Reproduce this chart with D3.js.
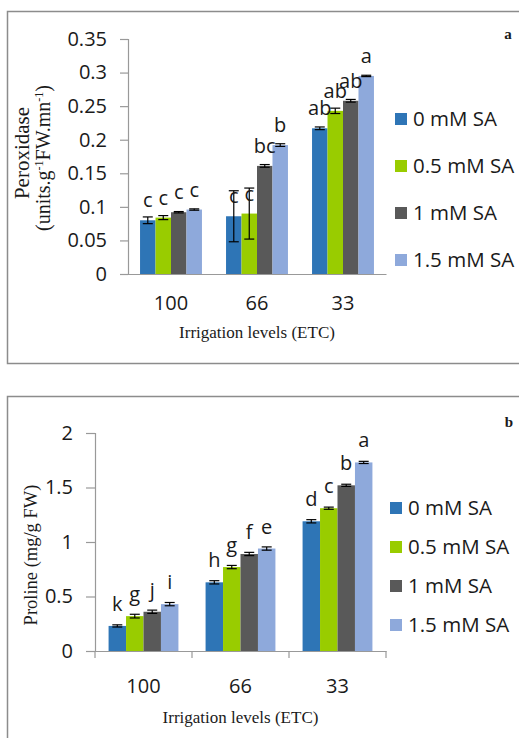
<!DOCTYPE html>
<html><head><meta charset="utf-8">
<script src="https://cdn.jsdelivr.net/npm/d3@7"></script>
<style>
body{margin:0;background:#fff;}
svg{display:block;}
</style>
</head><body>
<svg id="chart" width="519" height="738"></svg>
<script>
// ---------- data ----------
const categories = ["100", "66", "33"];
const seriesNames = ["0 mM SA", "0.5 mM SA", "1 mM SA", "1.5 mM SA"];
const seriesColors = ["#2E75B6", "#99CC00", "#595959", "#8EA9DB"];

// Panel a: Peroxidase (rows = series, columns = categories)
const perox0  = [0.080, 0.086, 0.217];
const perox05 = [0.084, 0.090, 0.243];
const perox1  = [0.092, 0.161, 0.258];
const perox15 = [0.096, 0.192, 0.295];
const peroxErr0  = [0.005, 0.038, 0.002];
const peroxErr05 = [0.003, 0.038, 0.004];
const peroxErr1  = [0.001, 0.002, 0.002];
const peroxErr15 = [0.001, 0.002, 0.001];
const peroxLetters0  = ["c", "c", "ab"];
const peroxLetters05 = ["c", "c", "ab"];
const peroxLetters1  = ["c", "bc", "ab"];
const peroxLetters15 = ["c", "b", "a"];
const peroxTicks = [0, 0.05, 0.1, 0.15, 0.2, 0.25, 0.3, 0.35];

// Panel b: Proline
const prol0  = [0.23, 0.63, 1.19];
const prol05 = [0.32, 0.77, 1.31];
const prol1  = [0.36, 0.89, 1.52];
const prol15 = [0.43, 0.94, 1.73];
const prolErr0  = [0.01, 0.015, 0.015];
const prolErr05 = [0.017, 0.015, 0.01];
const prolErr1  = [0.015, 0.015, 0.01];
const prolErr15 = [0.015, 0.015, 0.01];
const prolLetters0  = ["k", "h", "d"];
const prolLetters05 = ["g", "g", "c"];
const prolLetters1  = ["j", "f", "b"];
const prolLetters15 = ["i", "e", "a"];
const prolTicks = [0, 0.5, 1, 1.5, 2];

const xTitle = "Irrigation levels (ETC)";

// ---------- drawing ----------
const svg = d3.select("#chart");
const SANS = "'Open Sans', sans-serif";
const SERIF = "'Liberation Serif', 'Times New Roman', serif";

function drawPanel(cfg) {
  const g = svg.append("g");
  // outer frame
  g.append("rect").attr("x", cfg.box[0]).attr("y", cfg.box[1])
    .attr("width", cfg.box[2]).attr("height", cfg.box[3])
    .attr("fill", "none").attr("stroke", "#8c8c8c").attr("stroke-width", 1.5);

  const x = d3.scaleBand().domain(categories).range([cfg.x0, cfg.x1])
    .paddingInner(0.28).paddingOuter(0.14);
  const xs = d3.scaleBand().domain(seriesNames).range([0, x.bandwidth()]);
  const y = d3.scaleLinear().domain(cfg.yDomain).range([cfg.y0, cfg.yTop]);

  // y axis
  const ya = g.append("g").attr("transform", `translate(${cfg.x0},0)`)
    .call(d3.axisLeft(y).tickValues(cfg.ticks).tickSize(cfg.yTickSize)
      .tickPadding(cfg.yTickPad).tickFormat(d => String(d)));
  ya.select(".domain").attr("stroke", "#999").attr("stroke-width", 1.2);
  ya.selectAll(".tick line").attr("stroke", "#999").attr("stroke-width", 1.2);
  ya.selectAll("text").attr("font-family", SANS).attr("font-size", cfg.fs).attr("fill", "#1a1a1a");

  // bars
  const rows = cfg.values.map((vals, si) => vals.map((v, ci) => ({
    s: seriesNames[si], si, c: categories[ci], v, e: cfg.errs[si][ci], l: cfg.letters[si][ci]
  }))).flat();

  g.selectAll("rect.bar").data(rows).join("rect").attr("class", "bar")
    .attr("x", d => x(d.c) + xs(d.s)).attr("width", xs.bandwidth())
    .attr("y", d => y(d.v)).attr("height", d => y(0) - y(d.v))
    .attr("fill", d => seriesColors[d.si]);

  // error bars
  const eb = g.selectAll("g.err").data(rows).join("g").attr("class", "err")
    .attr("stroke", "#000").attr("stroke-width", 1.2);
  const cx = d => x(d.c) + xs(d.s) + xs.bandwidth() / 2;
  eb.append("line").attr("x1", cx).attr("x2", cx)
    .attr("y1", d => y(d.v + d.e)).attr("y2", d => y(d.v - d.e));
  eb.append("line").attr("x1", d => cx(d) - 5).attr("x2", d => cx(d) + 5)
    .attr("y1", d => y(d.v + d.e)).attr("y2", d => y(d.v + d.e));
  eb.append("line").attr("x1", d => cx(d) - 5).attr("x2", d => cx(d) + 5)
    .attr("y1", d => y(d.v - d.e)).attr("y2", d => y(d.v - d.e));

  // letters
  g.selectAll("text.lab").data(rows).join("text").attr("class", "lab")
    .attr("x", cx).attr("y", d => y(d.v) - cfg.labOff)
    .attr("text-anchor", "middle").attr("font-family", SANS)
    .attr("font-size", cfg.fs).attr("fill", "#1a1a1a").text(d => d.l);

  // x axis
  const xa = g.append("g").attr("transform", `translate(0,${cfg.y0})`)
    .call(d3.axisBottom(x).tickSize(0).tickPadding(cfg.xTickPad).tickSizeOuter(0));
  xa.select(".domain").attr("stroke", "#999").attr("stroke-width", 1.2);
  xa.selectAll("text").attr("font-family", SANS).attr("font-size", cfg.fs).attr("fill", "#1a1a1a");
  if (cfg.boundaryTicks) {
    const bounds = d3.range(categories.length + 1).map(i => cfg.x0 + i * x.step());
    g.selectAll("line.bt").data(bounds).join("line").attr("class", "bt")
      .attr("x1", d => d).attr("x2", d => d)
      .attr("y1", cfg.y0).attr("y2", cfg.y0 + 7)
      .attr("stroke", "#999").attr("stroke-width", 1.2);
  }

  // x title
  g.append("text").attr("x", (cfg.x0 + cfg.x1) / 2).attr("y", cfg.xTitleY)
    .attr("text-anchor", "middle").attr("font-family", SERIF)
    .attr("font-size", 17).attr("fill", "#1a1a1a").text(xTitle);

  // y title
  cfg.yTitle(g);

  // legend
  const lg = g.selectAll("g.leg").data(seriesNames).join("g").attr("class", "leg")
    .attr("transform", (d, i) => `translate(${cfg.legX},${cfg.legY + i * cfg.legStep})`);
  lg.append("rect").attr("x", 0).attr("y", -6).attr("width", 12).attr("height", 12)
    .attr("fill", (d, i) => seriesColors[i]);
  lg.append("text").attr("x", cfg.legTextDx).attr("y", 0).attr("dy", "0.35em")
    .attr("font-family", SANS).attr("font-size", cfg.legFs).attr("fill", "#1a1a1a").text(d => d);

  // panel letter
  g.append("text").attr("x", cfg.tag[0]).attr("y", cfg.tag[1])
    .attr("text-anchor", "middle").attr("font-family", SERIF).attr("font-weight", "bold")
    .attr("font-size", 15).attr("fill", "#1a1a1a").text(cfg.tagText);
}

drawPanel({
  box: [7.5, 11.5, 530, 352],
  x0: 128, x1: 386, y0: 274, yTop: 39, yDomain: [0, 0.35],
  ticks: peroxTicks, yTickSize: 8, yTickPad: 13, fs: 20,
  values: [perox0, perox05, perox1, perox15],
  errs: [peroxErr0, peroxErr05, peroxErr1, peroxErr15],
  letters: [peroxLetters0, peroxLetters05, peroxLetters1, peroxLetters15],
  labOff: 13, xTickPad: 22, boundaryTicks: false, xTitleY: 338,
  legX: 395, legY: 119, legStep: 47, legTextDx: 18, legFs: 20.5,
  tag: [508, 39], tagText: "a",
  yTitle: g => {
    g.append("text").attr("transform", "translate(29,153) rotate(-90)")
      .attr("text-anchor", "middle").attr("font-family", SERIF).attr("font-size", 21).attr("fill", "#1a1a1a")
      .text("Peroxidase");
    const t2 = g.append("text").attr("transform", "translate(50,158) rotate(-90)")
      .attr("text-anchor", "middle").attr("font-family", SERIF).attr("font-size", 20).attr("fill", "#1a1a1a");
    t2.append("tspan").text("(units.g");
    t2.append("tspan").attr("font-size", 12).attr("baseline-shift", "super").text("-1");
    t2.append("tspan").text("FW.mn");
    t2.append("tspan").attr("font-size", 12).attr("baseline-shift", "super").text("-1");
    t2.append("tspan").text(")");
  }
});

drawPanel({
  box: [7.5, 396.5, 530, 360],
  x0: 95, x1: 386, y0: 651, yTop: 433, yDomain: [0, 2],
  ticks: prolTicks, yTickSize: 9, yTickPad: 13, fs: 20,
  values: [prol0, prol05, prol1, prol15],
  errs: [prolErr0, prolErr05, prolErr1, prolErr15],
  letters: [prolLetters0, prolLetters05, prolLetters1, prolLetters15],
  labOff: 15, xTickPad: 28, boundaryTicks: true, xTitleY: 723,
  legX: 390, legY: 508, legStep: 39, legTextDx: 18, legFs: 20.5,
  tag: [509, 427], tagText: "b",
  yTitle: g => {
    g.append("text").attr("transform", "translate(37,555) rotate(-90)")
      .attr("text-anchor", "middle").attr("font-family", SERIF).attr("font-size", 18.5).attr("fill", "#1a1a1a")
      .text("Proline (mg/g FW)");
  }
});
</script>
</body></html>
